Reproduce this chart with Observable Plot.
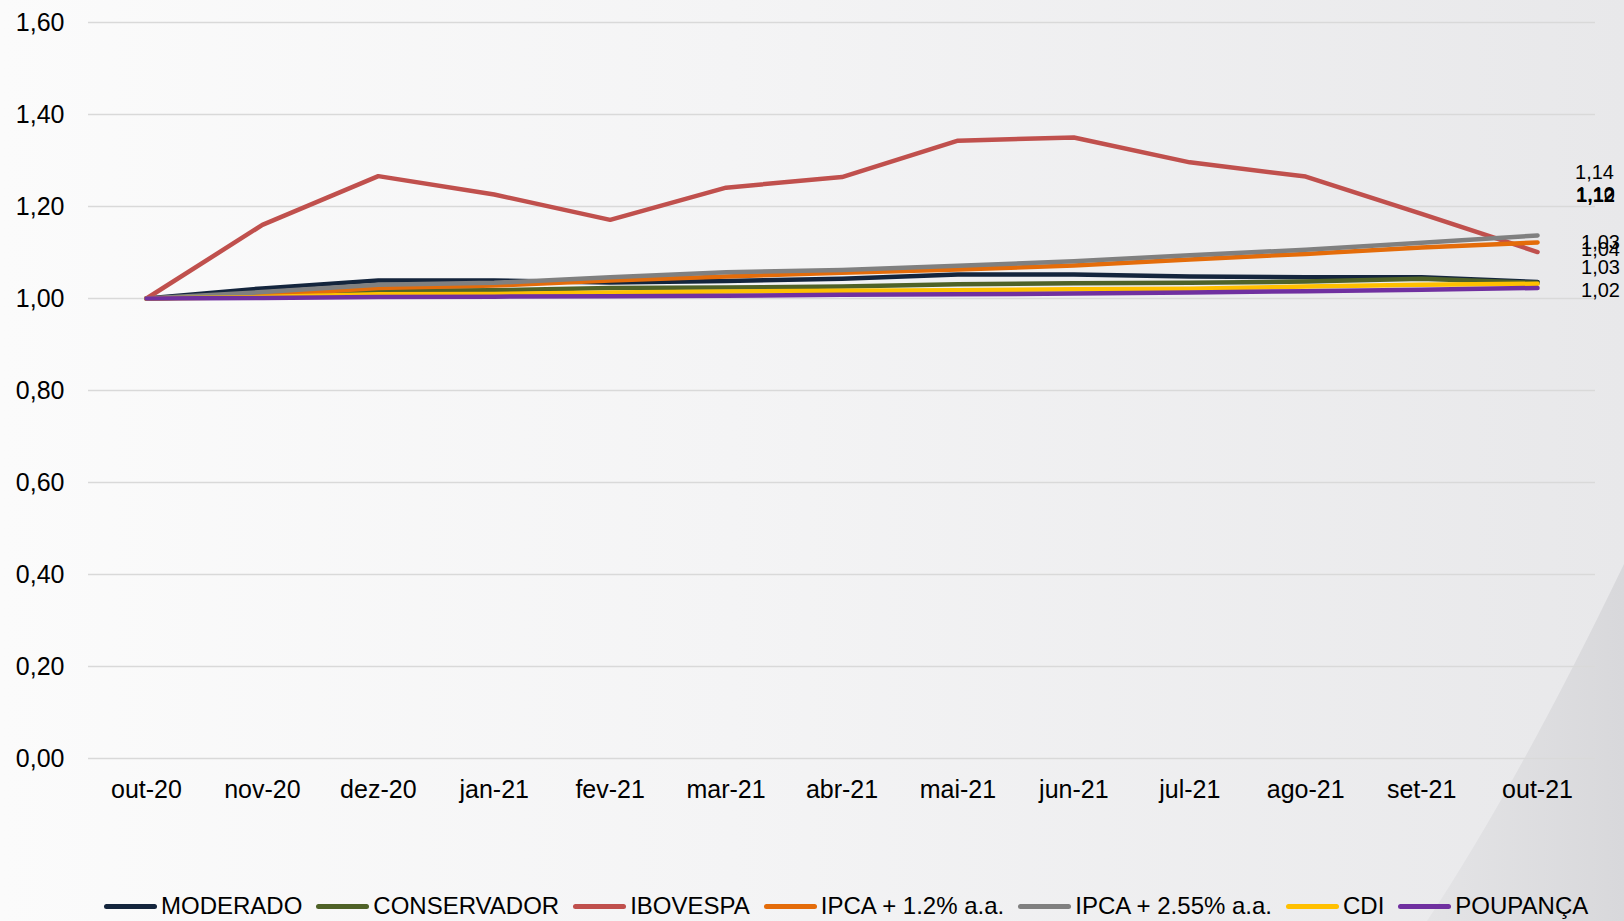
<!DOCTYPE html>
<html>
<head>
<meta charset="utf-8">
<script src="https://cdn.jsdelivr.net/npm/d3@7"></script>
<script src="https://cdn.jsdelivr.net/npm/@observablehq/plot@0.6"></script>
<style>
  html, body { margin: 0; padding: 0; }
  #wrap {
    position: relative; width: 1624px; height: 921px; overflow: hidden;
    background: linear-gradient(to right, #fbfbfb 0%, #f4f4f5 45%, #e8e8ea 100%);
    font-family: "Liberation Sans", Arial, sans-serif;
  }
  #swoosh { position: absolute; left: 0; top: 0; }
  #chart { position: absolute; left: 0; top: 0; }
  #legend {
    position: absolute; top: 891px; left: 104px; display: flex; align-items: center;
    font-size: 24px; color: #000; line-height: 30px; white-space: nowrap;
  }
  .item { display: flex; align-items: center; margin-right: 14px; }
  .sw { width: 53px; height: 5px; border-radius: 3px; margin-right: 4px; }
</style>
</head>
<body>
<div id="wrap">
  <svg id="swoosh" width="1624" height="921">
    <defs>
      <linearGradient id="sg" x1="0" y1="0" x2="1" y2="0">
        <stop offset="0" stop-color="#e4e4e6"/>
        <stop offset="1" stop-color="#d8d8db"/>
      </linearGradient>
    </defs>
    <path d="M1624,564 Q1520,780 1427,921 L1624,921 Z" fill="url(#sg)"/>
  </svg>
  <div id="chart"></div>
  <div id="legend"></div>
</div>
<script>
const months = ["out-20","nov-20","dez-20","jan-21","fev-21","mar-21","abr-21","mai-21","jun-21","jul-21","ago-21","set-21","out-21"];
const seriesNames = ["MODERADO","CONSERVADOR","IBOVESPA","IPCA + 1.2% a.a.","IPCA + 2.55% a.a.","CDI","POUPANÇA"];
const moderado    = [1.000, 1.022, 1.039, 1.039, 1.035, 1.038, 1.043, 1.052, 1.052, 1.048, 1.046, 1.046, 1.036];
const conservador = [1.000, 1.006, 1.017, 1.018, 1.023, 1.024, 1.026, 1.031, 1.033, 1.034, 1.037, 1.043, 1.034];
const ibovespa    = [1.000, 1.160, 1.266, 1.226, 1.171, 1.241, 1.264, 1.343, 1.350, 1.296, 1.265, 1.184, 1.101];
const ipca12      = [1.000, 1.007, 1.023, 1.028, 1.039, 1.048, 1.056, 1.063, 1.072, 1.085, 1.097, 1.111, 1.122];
const ipca255     = [1.000, 1.014, 1.030, 1.034, 1.046, 1.057, 1.062, 1.071, 1.081, 1.094, 1.106, 1.121, 1.137];
const cdi         = [1.000, 1.003, 1.009, 1.010, 1.013, 1.015, 1.017, 1.018, 1.020, 1.021, 1.026, 1.030, 1.032];
const poupanca    = [1.000, 1.001, 1.003, 1.004, 1.005, 1.006, 1.008, 1.009, 1.011, 1.013, 1.016, 1.019, 1.023];
const yTicks = [0, 0.2, 0.4, 0.6, 0.8, 1.0, 1.2, 1.4, 1.6];

const seriesValues = [moderado, conservador, ibovespa, ipca12, ipca255, cdi, poupanca];
const colors = ["#14253d", "#4f6228", "#c0504d", "#e46c0a", "#808080", "#ffc000", "#7030a0"];
// label placement (style offsets, px)
const labelDx = [63, 63, 58, 58, 57, 63, 63];
const labelDy = [-32, -40, -57, -47, -63, -16, 3];
const labelBold = [false, false, false, true, false, false, false];

const fmt = v => v.toFixed(2).replace(".", ",");

const data = [];
seriesNames.forEach((s, i) => months.forEach((m, j) => data.push({series: s, month: m, value: seriesValues[i][j]})));

const labelMarks = seriesNames.map((s, i) => Plot.text([{month: months[months.length - 1], value: seriesValues[i][months.length - 1]}], {
  x: "month", y: "value", text: d => fmt(d.value),
  dx: labelDx[i], dy: labelDy[i], fontSize: 20, fill: "#000",
  fontWeight: labelBold[i] ? "bold" : "normal", textAnchor: "middle"
}));

const chart = Plot.plot({
  width: 1624, height: 800,
  marginLeft: 88, marginRight: 29, marginTop: 22, marginBottom: 42,
  style: {background: "transparent", fontFamily: "'Liberation Sans', Arial, sans-serif", fontSize: "25px", color: "#000", overflow: "visible"},
  x: {type: "point", domain: months, padding: 0.5, round: false, label: null},
  y: {domain: [0, 1.6], label: null},
  color: {domain: seriesNames, range: colors},
  marks: [
    Plot.ruleY(yTicks, {stroke: "#d9d9d9", strokeWidth: 1.5}),
    Plot.axisY({ticks: yTicks, tickSize: 0, tickPadding: 24, tickFormat: fmt, label: null, fontSize: 25}),
    Plot.axisX({tickSize: 0, tickPadding: 22, label: null, fontSize: 25}),
    Plot.line(data, {x: "month", y: "value", z: "series", stroke: "series", strokeWidth: 4.5, strokeLinejoin: "round", strokeLinecap: "round"}),
    ...labelMarks
  ]
});
document.getElementById("chart").appendChild(chart);

const legend = document.getElementById("legend");
seriesNames.forEach((s, i) => {
  const it = document.createElement("div");
  it.className = "item";
  const sw = document.createElement("div");
  sw.className = "sw"; sw.style.background = colors[i];
  const tx = document.createElement("span");
  tx.textContent = s;
  it.appendChild(sw); it.appendChild(tx);
  legend.appendChild(it);
});
</script>
</body>
</html>
